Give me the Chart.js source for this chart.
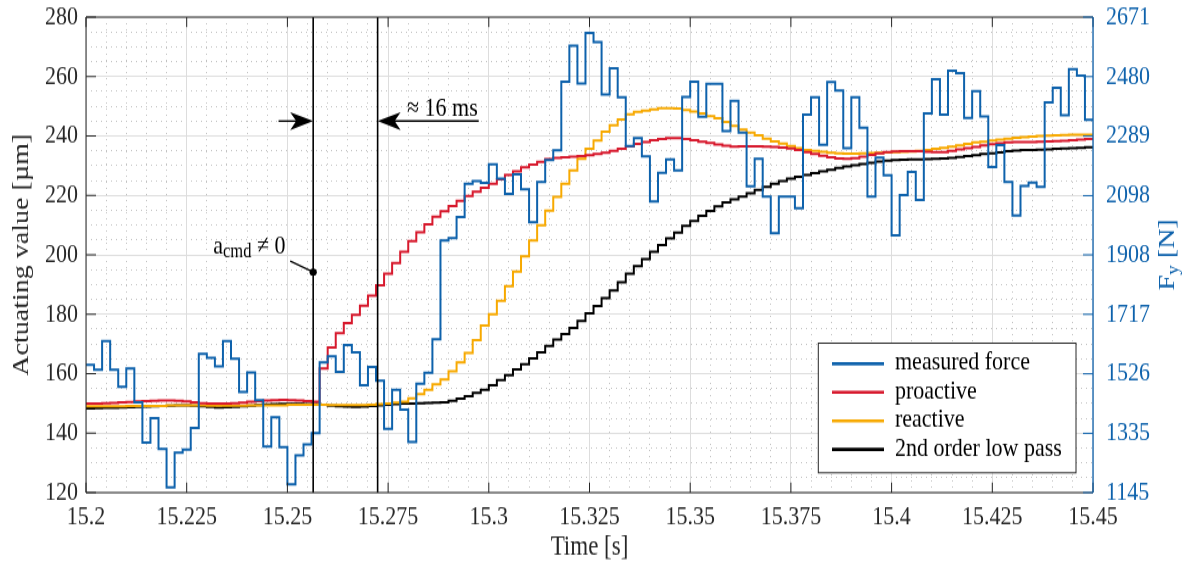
<!DOCTYPE html>
<html>
<head>
<meta charset="utf-8">
<script src="https://cdn.jsdelivr.net/npm/chart.js@4.4.1/dist/chart.umd.min.js"></script>
<style>
html,body{margin:0;padding:0;background:#ffffff;overflow:hidden;}
canvas{display:block;}
</style>
</head>
<body>
<canvas id="chart" width="1185" height="461" style="width:1185px;height:562px"></canvas>
<script>
// ---------------- data ----------------
const T_START = 15.2;          // s, first sample
const T_STEP = 0.002;          // s, sample period (2 ms)
const X_TICKS = ['15.2','15.225','15.25','15.275','15.3','15.325','15.35','15.375','15.4','15.425','15.45'];
const Y_LEFT_TICKS = [120,140,160,180,200,220,240,260,280];
const Y_RIGHT_TICKS = [1145,1335,1526,1717,1908,2098,2289,2480,2671];
const SERIES_LABELS = ['measured force','proactive','reactive','2nd order low pass'];

// measured force F_y [N] (right axis)
const MEASURED_FORCE = [
 1555,1539,1631,1539,1484,1543,1435,1305,1384,1285,
 1162,1273,1283,1352,1590,1577,1550,1631,1574,1468,
 1530,1441,1293,1387,1291,1171,1264,1300,1336,1563,
 1582,1532,1618,1595,1489,1548,1504,1349,1475,1411,
 1307,1494,1529,1637,1954,1962,2029,2136,2145,2139,
 2199,2153,2104,2166,2118,2013,2142,2212,2244,2464,
 2579,2458,2620,2591,2423,2507,2414,2257,2283,2224,
 2079,2171,2214,2179,2415,2464,2351,2457,2457,2305,
 2402,2300,2128,2216,2095,1977,2095,2095,2058,2358,
 2414,2261,2463,2435,2250,2414,2316,2095,2220,2163,
 1971,2100,2174,2084,2362,2471,2358,2499,2491,2347,
 2433,2352,2190,2260,2142,2034,2129,2140,2126,2397,
 2444,2356,2504,2483,2341,2341];

// actuating value [µm] (left axis)
const PROACTIVE = [
 150.0,150.0,150.1,150.2,150.4,150.5,150.7,150.8,150.9,151.0,
 151.0,150.9,150.7,150.4,150.1,150.0,149.9,149.9,150.1,150.3,
 150.6,150.8,151.0,151.1,151.2,151.1,151.0,150.8,150.6,161.7,
 168.8,173.6,177.0,179.8,182.9,186.3,189.7,193.6,197.2,201.0,
 204.6,207.6,210.3,212.8,214.7,216.4,218.2,219.8,221.2,222.6,
 223.9,225.4,226.9,228.1,229.4,230.4,231.3,232.2,232.6,232.8,
 233.0,233.2,233.5,233.9,234.4,235.0,235.7,236.5,237.3,238.0,
 238.6,239.0,239.3,239.3,239.0,238.6,238.1,237.6,237.1,236.7,
 236.4,236.5,236.5,236.5,236.4,236.3,236.1,235.8,235.3,234.6,
 233.9,233.3,232.8,232.4,232.3,232.5,233.0,233.6,234.2,234.6,
 234.8,234.9,234.9,234.9,234.7,234.6,234.6,235.0,235.5,235.9,
 236.3,236.8,237.2,237.5,237.8,237.9,238.0,238.0,238.1,238.2,
 238.3,238.4,238.6,238.8,239.0,239.2];

const REACTIVE = [
 149.0,149.0,149.0,149.0,149.0,149.1,149.1,149.1,149.1,149.1,
 149.3,149.3,149.3,149.3,149.3,149.2,149.2,149.2,149.2,149.2,
 149.3,149.3,149.3,149.3,149.3,149.5,149.5,149.5,149.5,149.5,
 149.4,149.4,149.4,149.4,149.4,149.5,149.7,150.0,150.3,150.6,
 151.7,153.1,154.6,156.4,158.1,160.8,163.8,167.0,171.3,176.2,
 180.0,184.5,189.4,194.4,199.5,204.8,209.9,214.9,219.5,223.9,
 228.4,232.3,235.7,238.5,241.4,243.6,245.5,247.3,248.1,248.5,
 248.9,249.3,249.3,249.2,248.7,248.2,247.6,246.7,245.9,244.7,
 243.4,242.2,241.1,240.2,239.1,238.2,237.4,236.6,235.9,235.3,
 235.0,234.7,234.4,234.2,234.1,234.1,234.2,234.3,234.4,234.5,
 234.6,234.7,234.8,235.0,235.3,235.7,236.0,236.4,236.8,237.3,
 237.8,238.1,238.5,238.8,239.1,239.4,239.6,239.8,240.0,240.1,
 240.2,240.3,240.4,240.4,240.4,240.4];

const LOW_PASS = [
 148.3,148.4,148.5,148.5,148.6,148.7,148.8,148.9,149.0,149.1,
 149.2,149.3,149.3,149.2,149.0,148.8,148.6,148.7,148.8,149.0,
 149.2,149.4,149.6,149.7,149.8,149.8,149.8,149.7,149.7,149.5,
 149.2,149.0,148.9,148.8,148.9,149.1,149.3,149.5,149.7,149.9,
 150.0,150.1,150.2,150.3,150.4,150.9,151.6,152.4,153.5,154.6,
 156.1,157.8,159.5,161.4,163.2,165.1,167.2,169.3,171.5,173.3,
 175.4,177.7,180.3,182.8,185.4,188.0,190.8,193.6,196.2,198.6,
 201.0,203.3,205.5,207.5,209.7,211.4,213.1,214.8,216.3,217.6,
 218.7,219.6,220.7,221.8,222.9,223.9,224.8,225.6,226.3,226.9,
 227.5,228.1,228.6,229.2,229.7,230.2,230.6,231.0,231.4,231.7,
 231.9,232.0,232.1,232.1,232.2,232.3,232.4,232.6,232.9,233.2,
 233.5,233.9,234.2,234.5,234.9,235.1,235.3,235.3,235.4,235.5,
 235.7,235.8,235.9,236.0,236.2,236.3];

// annotation anchors (data coordinates: time [s], actuating value [µm])
const CMD_TIME = 15.2564;       // a_cmd != 0
const DETECT_TIME = 15.2724;    // reactive detection (~16 ms later)
const ARROW_LEVEL = 245;
const ARROW_IN_TAIL = 15.2478;
const ARROW_OUT_TAIL = 15.2975;
const LABEL_16MS = {t: 15.2797, v: 246.7};
const LABEL_ACMD = {t: 15.2316, v: 200.4};
const LEADER_START = {t: 15.2507, v: 197.9};
const LEADER_DOT = {t: 15.2564, v: 194.2};

// ---------------- style ----------------
const STRETCH = 562 / 461;
const FONT = "'Liberation Serif','Times New Roman',Times,serif";
const AXIS_COLOR = '#262626';
const BLUE = '#0E62AC', RED = '#D7192D', YELLOW = '#F7A900', BLACK = '#000000';

const times = MEASURED_FORCE.map((_, k) => +(T_START + k * T_STEP).toFixed(4));
const toPoints = arr => arr.map((v, k) => ({x: times[k], y: v}));

function seg(ctx, x1, y1, x2, y2) { ctx.beginPath(); ctx.moveTo(x1, y1); ctx.lineTo(x2, y2); ctx.stroke(); }

function arrowHead(ctx, tipX, y, dir) {
  const L = 23, W = 9 / STRETCH, notch = 6;
  ctx.beginPath();
  ctx.moveTo(tipX, y);
  ctx.lineTo(tipX + dir * L, y - W);
  ctx.lineTo(tipX + dir * (L - notch), y);
  ctx.lineTo(tipX + dir * L, y + W);
  ctx.closePath();
  ctx.fill();
}

const annotationPlugin = {
  id: 'annot',
  afterDatasetsDraw(chart) {
    const {ctx, chartArea: {top, bottom}, scales: {x, y}} = chart;
    const px = t => x.getPixelForValue(t), py = v => y.getPixelForValue(v);
    ctx.save();
    ctx.strokeStyle = '#000'; ctx.fillStyle = '#000';
    ctx.lineWidth = 1.6;
    const xc = px(CMD_TIME), xd = px(DETECT_TIME);
    seg(ctx, xc, top, xc, bottom);
    seg(ctx, xd, top, xd, bottom);
    const ay = py(ARROW_LEVEL);
    ctx.lineWidth = 1.4;
    seg(ctx, px(ARROW_IN_TAIL), ay, xc - 10, ay);
    seg(ctx, xd + 10, ay, px(ARROW_OUT_TAIL), ay);
    arrowHead(ctx, xc, ay, -1);
    arrowHead(ctx, xd, ay, 1);
    ctx.textBaseline = 'alphabetic'; ctx.textAlign = 'left';
    ctx.font = `22px ${FONT}`;
    ctx.fillText('\u2248 16 ms', px(LABEL_16MS.t), py(LABEL_16MS.v));
    // a_cmd != 0
    let lx = px(LABEL_ACMD.t); const ly = py(LABEL_ACMD.v);
    ctx.font = `22px ${FONT}`; ctx.fillText('a', lx, ly); lx += ctx.measureText('a').width;
    ctx.font = `16.5px ${FONT}`; ctx.fillText('cmd', lx, ly + 3.4 / STRETCH); lx += ctx.measureText('cmd').width;
    ctx.font = `22px ${FONT}`; ctx.fillText(' \u2260 0', lx, ly);
    ctx.lineWidth = 1.4;
    const dx = px(LEADER_DOT.t), dy = py(LEADER_DOT.v);
    seg(ctx, px(LEADER_START.t), py(LEADER_START.v), dx, dy);
    ctx.beginPath(); ctx.ellipse(dx, dy, 3.6, 3.6 / STRETCH, 0, 0, Math.PI * 2); ctx.fill();
    ctx.restore();
  }
};

const framePlugin = {
  id: 'frame',
  afterDatasetsDraw(chart) {
    const {ctx, chartArea: {left, right, top, bottom}, scales: {x, y, yR}} = chart;
    ctx.save();
    ctx.lineWidth = 1; ctx.strokeStyle = AXIS_COLOR;
    const tl = 10, tv = 10 / STRETCH;
    x.ticks.forEach(t => { const p = x.getPixelForValue(t.value); seg(ctx, p, bottom, p, bottom - tv); seg(ctx, p, top, p, top + tv); });
    y.ticks.forEach(t => { const p = y.getPixelForValue(t.value); seg(ctx, left, p, left + tl, p); });
    ctx.beginPath(); ctx.moveTo(right, top); ctx.lineTo(left, top); ctx.lineTo(left, bottom); ctx.lineTo(right, bottom); ctx.stroke();
    ctx.strokeStyle = BLUE;
    yR.ticks.forEach(t => { const p = yR.getPixelForValue(t.value); seg(ctx, right - tl, p, right, p); });
    ctx.lineWidth = 1.3;
    seg(ctx, right, top, right, bottom);
    ctx.restore();
  }
};

const legendAndTitlePlugin = {
  id: 'legendBox',
  afterDraw(chart) {
    const {ctx, chartArea} = chart;
    // right axis title F_y [N]
    ctx.save();
    ctx.translate(1166, (chartArea.top + chartArea.bottom) / 2);
    ctx.rotate(-Math.PI / 2);
    ctx.fillStyle = BLUE; ctx.textBaseline = 'alphabetic'; ctx.textAlign = 'left';
    const big = `23px ${FONT}`, small = `16px ${FONT}`;
    ctx.font = big; const wF = ctx.measureText('F').width; const wR = ctx.measureText(' [N]').width;
    ctx.font = small; const wy = ctx.measureText('y').width;
    let cx = -(wF + wy + wR) / 2; const base = 7.6;
    ctx.font = big; ctx.fillText('F', cx, base); cx += wF;
    ctx.font = small; ctx.fillText('y', cx, base + 4); cx += wy;
    ctx.font = big; ctx.fillText(' [N]', cx, base);
    ctx.restore();

    // legend box
    const w = 257.7, h = 106.3;
    const bx = chartArea.right - 17 - w, by = chartArea.bottom - 16.2 - h;
    ctx.save();
    ctx.fillStyle = '#ffffff'; ctx.fillRect(bx, by, w, h);
    ctx.strokeStyle = AXIS_COLOR; ctx.lineWidth = 1; ctx.strokeRect(bx, by, w, h);
    ctx.font = `22px ${FONT}`; ctx.textBaseline = 'alphabetic'; ctx.textAlign = 'left';
    chart.data.datasets.forEach((ds, i) => {
      const ry = by + 16.9 + i * 23.4;
      ctx.strokeStyle = ds.borderColor; ctx.lineWidth = 2.6;
      seg(ctx, bx + 13.7, ry, bx + 65.7, ry);
      ctx.fillStyle = '#000';
      ctx.fillText(ds.label, bx + 76.7, ry + 4.9);
    });
    ctx.restore();
  }
};

const tickFont = {family: FONT, size: 22};
const majorGrid = {color: '#dddddd', lineWidth: 1, drawTicks: false};
const minorGrid = {color: '#c2c2c2', lineWidth: 1, drawTicks: false};

function withoutMajors(step) {
  return s => { s.ticks = s.ticks.filter(t => Math.abs(t.value / step - Math.round(t.value / step)) > 1e-6); };
}
function fixV(width) {
  return s => { s.width = width; s.paddingTop = 0; s.paddingBottom = 0; };
}
function fixH(height) {
  return s => { s.height = height; s.paddingLeft = 0; s.paddingRight = 0; };
}

new Chart(document.getElementById('chart'), {
  type: 'line',
  data: {
    datasets: [
      {label: SERIES_LABELS[0], data: toPoints(MEASURED_FORCE), yAxisID: 'yR', borderColor: BLUE, borderWidth: 2},
      {label: SERIES_LABELS[1], data: toPoints(PROACTIVE), yAxisID: 'y', borderColor: RED, borderWidth: 2},
      {label: SERIES_LABELS[2], data: toPoints(REACTIVE), yAxisID: 'y', borderColor: YELLOW, borderWidth: 2},
      {label: SERIES_LABELS[3], data: toPoints(LOW_PASS), yAxisID: 'y', borderColor: BLACK, borderWidth: 2}
    ]
  },
  options: {
    responsive: false,
    animation: false,
    devicePixelRatio: 1,
    layout: {padding: {top: 14, left: 0, right: 0, bottom: 0}},
    elements: {point: {radius: 0, hoverRadius: 0}, line: {stepped: true, fill: false, tension: 0}},
    events: [],
    plugins: {legend: {display: false}, tooltip: {enabled: false}},
    scales: {
      xMinor: {
        type: 'linear', position: 'bottom', min: 15.2, max: 15.45,
        ticks: {display: false, stepSize: 0.005}, afterBuildTicks: withoutMajors(0.025),
        grid: minorGrid, border: {display: false, dash: [1, 4]},
        afterFit: fixH(0)
      },
      yMinor: {
        type: 'linear', position: 'left', min: 120, max: 280,
        ticks: {display: false, stepSize: 5}, afterBuildTicks: withoutMajors(20),
        grid: minorGrid, border: {display: false, dash: [1, 4]},
        afterFit: fixV(0)
      },
      x: {
        type: 'linear', position: 'bottom', min: 15.2, max: 15.45,
        afterBuildTicks: s => { s.ticks = X_TICKS.map(t => ({value: parseFloat(t)})); },
        ticks: {callback: (v, i) => X_TICKS[i], font: tickFont, color: AXIS_COLOR, padding: 7, maxRotation: 0, autoSkip: false},
        grid: majorGrid, border: {display: false},
        title: {display: true, text: 'Time [s]', font: {family: FONT, size: 23}, color: AXIS_COLOR, padding: {top: 0, bottom: -2}},
        afterFit: fixH(57)
      },
      y: {
        type: 'linear', position: 'left', min: 120, max: 280,
        afterBuildTicks: s => { s.ticks = Y_LEFT_TICKS.map(v => ({value: v})); },
        ticks: {callback: v => String(v), font: tickFont, color: AXIS_COLOR, padding: 8, autoSkip: false},
        grid: majorGrid, border: {display: false},
        title: {display: true, text: 'Actuating value [\u00b5m]', font: {family: FONT, size: 23}, color: AXIS_COLOR, padding: {top: 8, bottom: 0}},
        afterFit: fixV(86)
      },
      yR: {
        type: 'linear', position: 'right', min: 1145, max: 2671,
        afterBuildTicks: s => { s.ticks = Y_RIGHT_TICKS.map(v => ({value: v})); },
        ticks: {callback: v => String(v), font: tickFont, color: BLUE, padding: 13, autoSkip: false},
        grid: {display: false, drawTicks: false}, border: {display: false},
        afterFit: fixV(92)
      }
    }
  },
  plugins: [annotationPlugin, framePlugin, legendAndTitlePlugin]
});
</script>
</body>
</html>
